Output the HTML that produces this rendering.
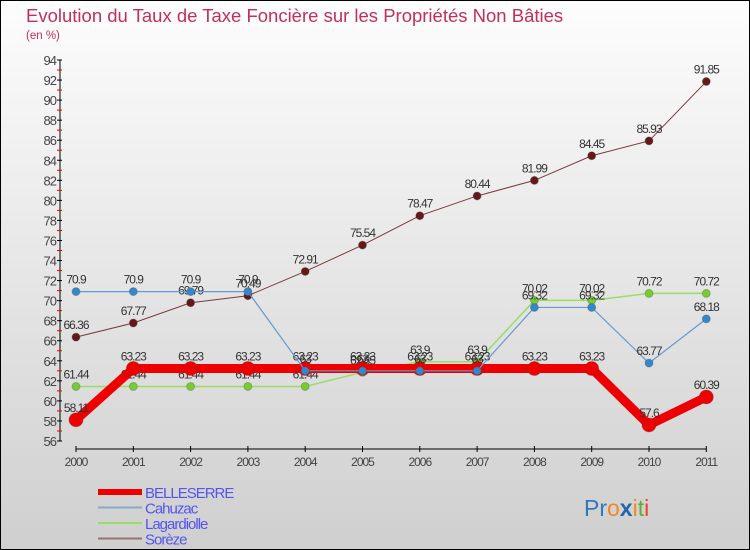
<!DOCTYPE html>
<html><head><meta charset="utf-8"><style>
body{margin:0;width:750px;height:550px;overflow:hidden;font-family:"Liberation Sans",sans-serif}
#wrap{position:absolute;left:0;top:0;width:748px;height:548px;border:1px solid #000;background:linear-gradient(#fdfdfd,#cfcfcf)}
</style></head><body>
<div id="wrap"></div>
<svg id="c" width="750" height="550" style="position:absolute;left:0;top:0">
<text x="26" y="22" font-size="18.5" fill="#c0305a">Evolution du Taux de Taxe Foncière sur les Propriétés Non Bâties</text>
<text x="26" y="39" font-size="11.5" fill="#c0305a">(en %)</text>
<g id="axes"></g><g id="series"></g><g id="legend"></g>
<text x="584" y="516" font-size="23"><tspan fill="#3377bb">Pr</tspan><tspan fill="#ee8822">o</tspan><tspan fill="#2266aa" font-weight="bold">x</tspan><tspan fill="#ee8822">i</tspan><tspan fill="#66aa33">t</tspan><tspan fill="#ee4422">i</tspan></text>
</svg>
<script>
const years=[2000,2001,2002,2003,2004,2005,2006,2007,2008,2009,2010,2011];
const belleserre=[58.11,63.23,63.23,63.23,63.23,63.23,63.23,63.23,63.23,63.23,57.6,60.39];
const cahuzac=[70.9,70.9,70.9,70.9,63,63,63,63,69.32,69.32,63.77,68.18];
const lagardiolle=[61.44,61.44,61.44,61.44,61.44,62.85,63.9,63.9,70.02,70.02,70.72,70.72];
const soreze=[66.36,67.77,69.79,70.49,72.91,75.54,78.47,80.44,81.99,84.45,85.93,91.85];
const yTicks=[56,58,60,62,64,66,68,70,72,74,76,78,80,82,84,86,88,90,92,94];
const NS="http://www.w3.org/2000/svg";
const xS=i=>76+i*57.3;
const yS=v=>441-(v-56)*(381/38);
function mk(t,a,p){const e=document.createElementNS(NS,t);for(const k in a)e.setAttribute(k,a[k]);p.appendChild(e);return e;}
const ax=document.getElementById('axes');
const yl=mk('line',{x1:60,y1:yS(94),x2:60,y2:yS(56),stroke:'#000'},ax);


yTicks.forEach(v=>{
 mk('line',{x1:57,x2:62,y1:yS(v),y2:yS(v),stroke:'#000'},ax);
 if(v<94) mk('line',{x1:57,x2:62,y1:yS(v+1),y2:yS(v+1),stroke:'#e00'},ax);
 const t=mk('text',{x:56,y:yS(v)+5,'font-size':13,'text-anchor':'end',fill:'#444','letter-spacing':'-1'},ax);
 t.textContent=v;
 
 
});
const xl=mk('line',{x1:xS(0),x2:xS(11),y1:449,y2:449,stroke:'#000'},ax);


years.forEach((y,i)=>{
 mk('line',{x1:xS(i),x2:xS(i),y1:446,y2:452,stroke:'#000'},ax);
 const t=mk('text',{x:xS(i),y:466,'font-size':12,'text-anchor':'middle',fill:'#444','letter-spacing':'-1'},ax);
 t.textContent=y;
 
 
});
const sg=document.getElementById('series');
function draw(name,data,color,w,r,dot){
 const g=mk('g',{},sg);
 
 
 mk('polyline',{points:data.map((v,i)=>xS(i)+','+yS(v)).join(' '),fill:'none',stroke:color,'stroke-width':w},g);
 data.forEach((v,i)=>{
  const c=mk('circle',{cx:xS(i),cy:yS(v),r:r,fill:dot,stroke:'#444','stroke-opacity':0.3},g);
  
  
  const t=mk('text',{x:xS(i),y:yS(v)-8,'font-size':12,'text-anchor':'middle',fill:'#333','letter-spacing':'-1'},g);
  t.textContent=v;
  
  
 });
}
draw('soreze',soreze,'#7a3a3a',1,4,'#661818');
draw('lagardiolle',lagardiolle,'#99dd66',1.5,4,'#77cc33');
draw('belleserre',belleserre,'#ee0000',9,7,'#ee0000');
draw('cahuzac',cahuzac,'#6699cc',1.2,4,'#3388cc');
const lg=document.getElementById('legend');
[['BELLESERRE','#ee0000',6],['Cahuzac','#88aacc',2],['Lagardiolle','#99dd66',2],['Sorèze','#997070',2]].forEach((d,i)=>{
 const y=492+i*15.5;
 const g=mk('g',{},lg);
 
 
 mk('line',{x1:98,x2:142,y1:y,y2:y,stroke:d[1],'stroke-width':d[2]},g);
 const t=mk('text',{x:145,y:y+6,'font-size':15,fill:'#5555ee','letter-spacing':'-1'},g);
 t.textContent=d[0];
});
</script>
</body></html>
